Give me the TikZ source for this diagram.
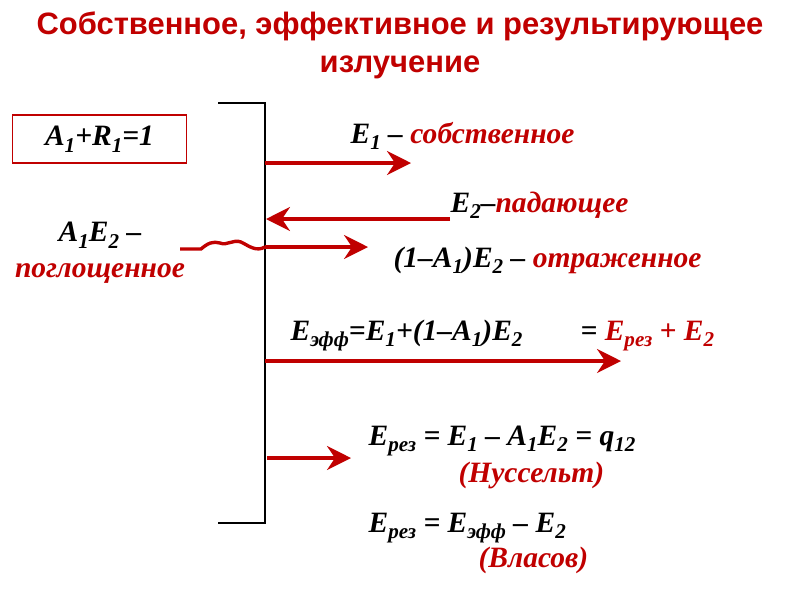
\documentclass[tikz,border=0pt]{standalone}
\usepackage{fontspec}
\setmainfont{Liberation Serif}
\newfontfamily\titlefont{Liberation Sans}
\usetikzlibrary{arrows.meta}
\definecolor{darkred}{RGB}{192,0,0}
\newcommand{\ix}[1]{\raisebox{-0.5ex}{\fontsize{15}{15}\selectfont #1}}
\newcommand{\rd}[1]{\textcolor{darkred}{#1}}

\begin{document}
\begin{tikzpicture}[x=0.025cm,y=-0.025cm,line width=0.8pt,
  ray/.style={line width=2.2pt,draw=darkred,-{Stealth[length=6mm,width=6mm,inset=2mm]}},
  lbl/.style={anchor=base west,inner sep=0pt,font=\fontsize{21}{23}\selectfont\bfseries\itshape}]
  \useasboundingbox (0,0) rectangle (800,600);
  % title
  \node[font=\titlefont\fontsize{22}{27}\selectfont\bfseries,text=darkred,align=center] (title) at (400,45)
    {Собственное, эффективное и результирующее\\излучение};
  \node[draw=darkred,minimum width=4.33cm,minimum height=1.2cm,
    font=\fontsize{21}{23}\selectfont\bfseries\itshape] (law) at (99.5,139) {A\ix{1}+R\ix{1}=1};
  % wall
  \draw (218,103) -| (265,523) -- (218,523);
  \coordinate (s1) at (265,163);  \coordinate (e1) at (411,163);
  \coordinate (s2) at (266,219);  \coordinate (e2) at (450,219);
  \coordinate (s3) at (265,247);  \coordinate (e3) at (368,247);
  \coordinate (s4) at (265,361);  \coordinate (e4) at (621,361);
  \coordinate (s5) at (267,458);  \coordinate (e5) at (351,458);
  \coordinate (w0) at (180,249);
  \draw[ray] (s1) -- (e1);
  \draw[ray] (e2) -- (s2);
  \draw[ray] (s3) -- (e3);
  \draw[ray] (s4) -- (e4);
  \draw[ray] (s5) -- (e5);
  \draw[darkred,line width=2.4pt] (w0) -- (201,249) .. controls (208,243) and (213,241) .. (220,243)
    .. controls (227,246) and (233,239) .. (241,242) .. controls (249,246) and (256,252) .. (s3);
  % labels
  \node[lbl] (own) at (350,143) {E\ix{1} – \rd{собственное}};
  \node[lbl] (inc) at (450,212) {E\ix{2}–\rd{падающее}};
  \node[lbl] (refl) at (393,267) {(1–A\ix{1})E\ix{2} – \rd{отраженное}};
  \node[lbl,anchor=base,align=center] (abs) at (100,277) {A\ix{1}E\ix{2} –\\[2pt]\rd{поглощенное}};
  \node[lbl] (eff) at (290,340) {E\ix{эфф}=E\ix{1}+(1–A\ix{1})E\ix{2}};
  \node[lbl] (effr) at (580,340) {= \rd{E\ix{рез} + E\ix{2}}};
  \node[lbl] (res1) at (368,445) {E\ix{рез} = E\ix{1} – A\ix{1}E\ix{2} = q\ix{12}};
  \node[lbl,text=darkred] (nus) at (458,482) {(Нуссельт)};
  \node[lbl] (res2) at (368,532) {E\ix{рез} = E\ix{эфф} – E\ix{2}};
  \node[lbl,text=darkred] (vla) at (478,567) {(Власов)};
\end{tikzpicture}
\end{document}
